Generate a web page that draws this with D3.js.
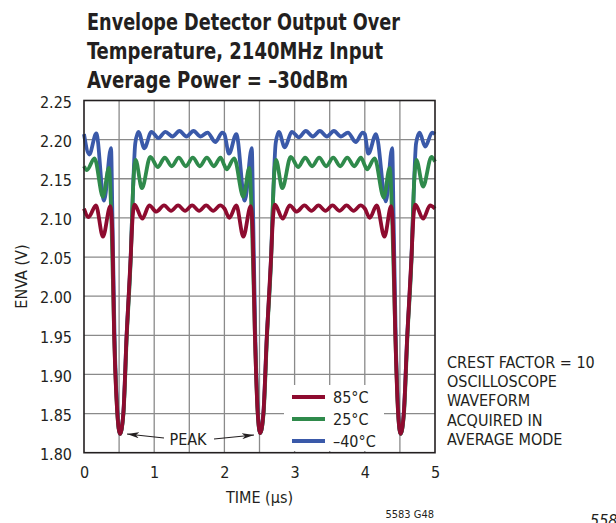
<!DOCTYPE html>
<html>
<head>
<meta charset="utf-8">
<script src="https://cdn.jsdelivr.net/npm/d3@7"></script>
<style>
  html, body { margin: 0; padding: 0; background: #fff; }
  svg { display: block; }
  .cond { font-family: 'Liberation Sans Narrow', 'DejaVu Sans Condensed', 'Roboto Condensed', sans-serif; }
</style>
</head>
<body>
<svg id="chart" width="616" height="523"></svg>
<script>
// tick labels
const xTicks = [0, 1, 2, 3, 4, 5]
const yTicks = [1.80, 1.85, 1.90, 1.95, 2.00, 2.05, 2.10, 2.15, 2.20, 2.25]
const xGrid = [0.5, 1, 1.5, 2, 2.5, 3, 3.5, 4, 4.5]
const yGrid = [1.85, 1.90, 1.95, 2.00, 2.05, 2.10, 2.15, 2.20]

const titleLines = [
  'Envelope Detector Output Over',
  'Temperature, 2140MHz Input',
  'Average Power = \u201330dBm'
]
const titleWidths = [313, 296, 261]
const noteLines = ['CREST FACTOR = 10', 'OSCILLOSCOPE', 'WAVEFORM', 'ACQUIRED IN', 'AVERAGE MODE']

// [time (us), ENVA (V)]
const trace85 = [
  [0.00, 2.112], [0.065, 2.101], [0.17, 2.116], [0.27, 2.076], [0.375, 2.115],
  [0.40, 2.09], [0.43, 1.95], [0.475, 1.85], [0.513, 1.824], [0.56, 1.85], [0.607, 1.95], [0.665, 2.05], [0.69, 2.097],
  [0.72, 2.117], [0.83, 2.099], [0.93, 2.116], [1.03, 2.108], [1.14, 2.116], [1.24, 2.109], [1.34, 2.116], [1.44, 2.109],
  [1.54, 2.116], [1.64, 2.109], [1.74, 2.116], [1.84, 2.109], [1.94, 2.116],
  [2.00, 2.112], [2.07, 2.100], [2.17, 2.116], [2.27, 2.076], [2.375, 2.115],
  [2.40, 2.09], [2.435, 1.95], [2.475, 1.85], [2.51, 1.825], [2.555, 1.85], [2.605, 1.95], [2.665, 2.05], [2.69, 2.097],
  [2.72, 2.117], [2.83, 2.099], [2.93, 2.116], [3.03, 2.108], [3.14, 2.116], [3.24, 2.109], [3.34, 2.116], [3.44, 2.109],
  [3.54, 2.116], [3.64, 2.109], [3.74, 2.116], [3.84, 2.109], [3.94, 2.116],
  [4.00, 2.112], [4.07, 2.100], [4.17, 2.116], [4.28, 2.076], [4.375, 2.115],
  [4.40, 2.09], [4.435, 1.95], [4.475, 1.85], [4.51, 1.824], [4.555, 1.85], [4.605, 1.95], [4.665, 2.05], [4.69, 2.097],
  [4.72, 2.117], [4.83, 2.099], [4.93, 2.116], [5.00, 2.112]
]

const trace25 = [
  [0.00, 2.166], [0.04, 2.161], [0.15, 2.176], [0.27, 2.127], [0.355, 2.164],
  [0.39, 2.10], [0.43, 1.95], [0.475, 1.85], [0.513, 1.824], [0.562, 1.85], [0.61, 1.95], [0.667, 2.05], [0.70, 2.14],
  [0.735, 2.174], [0.825, 2.138], [0.945, 2.178], [1.05, 2.165], [1.15, 2.177], [1.25, 2.166], [1.35, 2.177], [1.45, 2.166],
  [1.55, 2.177], [1.65, 2.166], [1.75, 2.177], [1.85, 2.166], [1.945, 2.177],
  [2.00, 2.167], [2.03, 2.162], [2.14, 2.176], [2.27, 2.127], [2.355, 2.164],
  [2.39, 2.10], [2.435, 1.95], [2.475, 1.85], [2.51, 1.825], [2.558, 1.85], [2.608, 1.95], [2.667, 2.05], [2.70, 2.14],
  [2.735, 2.174], [2.825, 2.138], [2.945, 2.178], [3.05, 2.165], [3.15, 2.177], [3.25, 2.166], [3.35, 2.177], [3.45, 2.166],
  [3.55, 2.177], [3.65, 2.166], [3.75, 2.177], [3.85, 2.166], [3.945, 2.177],
  [4.00, 2.167], [4.03, 2.162], [4.14, 2.176], [4.27, 2.126], [4.355, 2.164],
  [4.39, 2.10], [4.435, 1.95], [4.475, 1.85], [4.51, 1.824], [4.558, 1.85], [4.608, 1.95], [4.667, 2.05], [4.70, 2.14],
  [4.735, 2.174], [4.83, 2.140], [4.95, 2.178], [5.00, 2.172]
]

const traceM40 = [
  [0.00, 2.207], [0.075, 2.181], [0.175, 2.208], [0.285, 2.122], [0.385, 2.189],
  [0.405, 2.10], [0.435, 1.95], [0.478, 1.85], [0.513, 1.824], [0.56, 1.85], [0.607, 1.95], [0.665, 2.05], [0.70, 2.14], [0.73, 2.195],
  [0.775, 2.210], [0.86, 2.189], [0.96, 2.210], [1.06, 2.202], [1.16, 2.210], [1.26, 2.204], [1.36, 2.211], [1.46, 2.204],
  [1.56, 2.211], [1.66, 2.204], [1.76, 2.209], [1.87, 2.197], [1.97, 2.209],
  [2.00, 2.207], [2.065, 2.182], [2.17, 2.207], [2.29, 2.122], [2.39, 2.189],
  [2.41, 2.10], [2.44, 1.95], [2.478, 1.85], [2.51, 1.825], [2.555, 1.85], [2.605, 1.95], [2.665, 2.05], [2.70, 2.14], [2.73, 2.195],
  [2.775, 2.210], [2.86, 2.190], [2.96, 2.210], [3.06, 2.203], [3.16, 2.211], [3.26, 2.204], [3.36, 2.211], [3.46, 2.204],
  [3.56, 2.211], [3.66, 2.204], [3.76, 2.209], [3.87, 2.197], [3.97, 2.209],
  [4.00, 2.207], [4.05, 2.182], [4.16, 2.207], [4.30, 2.121], [4.39, 2.189],
  [4.41, 2.10], [4.44, 1.95], [4.478, 1.85], [4.51, 1.824], [4.555, 1.85], [4.605, 1.95], [4.665, 2.05], [4.70, 2.14], [4.73, 2.195],
  [4.78, 2.209], [4.86, 2.191], [4.96, 2.209], [5.00, 2.207]
]

const seriesNames = ['85\u00b0C', '25\u00b0C', '\u201340\u00b0C']
const seriesColors = ['#8e0b2f', '#2f8a4b', '#3a59a9']

const svg = d3.select('#chart')
const plot = { left: 84, right: 435, top: 100.5, bottom: 452.7 }

const x = d3.scaleLinear().domain([0, 5]).range([plot.left, plot.right])
const y = d3.scaleLinear().domain([1.8, 2.25]).range([plot.bottom, plot.top])

// title, squeezed to the condensed widths of the original
svg.append('g')
  .selectAll('text')
  .data(titleLines)
  .enter()
  .append('text')
  .attr('class', 'cond')
  .attr('x', 87)
  .attr('y', (d, i) => 29.5 + i * 29.3)
  .attr('textLength', (d, i) => titleWidths[i])
  .attr('lengthAdjust', 'spacingAndGlyphs')
  .style('font-size', '23px')
  .style('font-weight', 'bold')
  .style('fill', '#231f20')
  .text(d => d)

// grid
const grid = svg.append('g').attr('stroke', '#8a8a8a').attr('stroke-width', 1.3)
grid.selectAll('.vgrid')
  .data(xGrid)
  .enter()
  .append('line')
  .attr('x1', d => x(d))
  .attr('x2', d => x(d))
  .attr('y1', plot.top)
  .attr('y2', plot.bottom)
grid.selectAll('.hgrid')
  .data(yGrid)
  .enter()
  .append('line')
  .attr('x1', plot.left)
  .attr('x2', plot.right)
  .attr('y1', d => y(d))
  .attr('y2', d => y(d))

// legend background hides grid
svg.append('rect')
  .attr('x', 284)
  .attr('y', 385)
  .attr('width', 100)
  .attr('height', 66)
  .attr('fill', '#fff')

// traces: -40 first, 85 on top
const line = d3.line()
  .x(d => x(d[0]))
  .y(d => y(d[1]))
  .curve(d3.curveMonotoneX)

const traces = [traceM40, trace25, trace85]
const traceColors = [seriesColors[2], seriesColors[1], seriesColors[0]]
svg.append('g')
  .selectAll('path')
  .data(traces)
  .enter()
  .append('path')
  .attr('d', line)
  .attr('fill', 'none')
  .attr('stroke', (d, i) => traceColors[i])
  .attr('stroke-width', 3.8)
  .attr('stroke-linejoin', 'round')

// frame
svg.append('rect')
  .attr('x', plot.left)
  .attr('y', plot.top)
  .attr('width', plot.right - plot.left)
  .attr('height', plot.bottom - plot.top)
  .attr('fill', 'none')
  .attr('stroke', '#231f20')
  .attr('stroke-width', 1.6)

// axes
const yAxis = svg.append('g')
  .attr('transform', `translate(${plot.left},0)`)
  .call(d3.axisLeft(y).tickValues(yTicks).tickFormat(d3.format('.2f')).tickSize(0).tickPadding(12))
yAxis.attr('font-family', null).attr('class', 'cond')
yAxis.select('.domain').remove()
yAxis.selectAll('text')
  .attr('dy', '0.42em')
  .style('font-size', '16px')
  .style('fill', '#231f20')

const xAxis = svg.append('g')
  .attr('transform', `translate(0,${plot.bottom})`)
  .call(d3.axisBottom(x).tickValues(xTicks).tickFormat(d3.format('d')).tickSize(0).tickPadding(14))
xAxis.attr('font-family', null).attr('class', 'cond')
xAxis.select('.domain').remove()
xAxis.selectAll('text')
  .style('font-size', '16px')
  .style('fill', '#231f20')

// axis titles
svg.append('text')
  .attr('class', 'cond')
  .attr('transform', `translate(27,${(plot.top + plot.bottom) / 2}) rotate(-90)`)
  .attr('text-anchor', 'middle')
  .style('font-size', '16px')
  .style('fill', '#231f20')
  .text('ENVA (V)')

svg.append('text')
  .attr('class', 'cond')
  .attr('x', (plot.left + plot.right) / 2)
  .attr('y', 503)
  .attr('text-anchor', 'middle')
  .style('font-size', '16px')
  .style('fill', '#231f20')
  .text('TIME (\u00b5s)')

// legend
const legend = svg.append('g')
  .selectAll('g')
  .data(seriesNames)
  .enter()
  .append('g')
  .attr('transform', (d, i) => `translate(292,${397 + i * 22})`)
legend.append('line')
  .attr('x1', 0)
  .attr('x2', 33)
  .attr('stroke', (d, i) => seriesColors[i])
  .attr('stroke-width', 3.8)
legend.append('text')
  .attr('class', 'cond')
  .attr('x', 41)
  .attr('y', 6)
  .style('font-size', '16px')
  .style('fill', '#231f20')
  .text(d => d)

// PEAK annotation
svg.append('defs')
  .append('marker')
  .attr('id', 'arrow')
  .attr('viewBox', '0 0 12 6')
  .attr('refX', 12)
  .attr('refY', 3)
  .attr('markerWidth', 12)
  .attr('markerHeight', 6)
  .attr('markerUnits', 'userSpaceOnUse')
  .attr('orient', 'auto')
  .append('path')
  .attr('d', 'M0,0 L12,3 L0,6 L3,3 Z')
  .attr('fill', '#231f20')

svg.append('text')
  .attr('class', 'cond')
  .attr('x', 188)
  .attr('y', 445)
  .attr('text-anchor', 'middle')
  .style('font-size', '16px')
  .style('fill', '#231f20')
  .text('PEAK')

svg.append('line')
  .attr('x1', 164).attr('y1', 438)
  .attr('x2', 127).attr('y2', 434)
  .attr('stroke', '#231f20').attr('stroke-width', 1.2)
  .attr('marker-end', 'url(#arrow)')
svg.append('line')
  .attr('x1', 214).attr('y1', 439)
  .attr('x2', 254).attr('y2', 435)
  .attr('stroke', '#231f20').attr('stroke-width', 1.2)
  .attr('marker-end', 'url(#arrow)')

// side note
svg.append('text')
  .attr('class', 'cond')
  .attr('x', 447)
  .attr('y', 368)
  .style('font-size', '16px')
  .style('fill', '#231f20')
  .selectAll('tspan')
  .data(noteLines)
  .enter()
  .append('tspan')
  .attr('x', 447)
  .attr('dy', (d, i) => (i === 0 ? 0 : 19.2))
  .text(d => d)

// figure id and page number (page number sits at the page edge, as in the source)
svg.append('text')
  .attr('class', 'cond')
  .attr('x', 434)
  .attr('y', 518)
  .attr('text-anchor', 'end')
  .style('font-size', '11px')
  .style('fill', '#231f20')
  .text('5583 G48')

svg.append('text')
  .attr('class', 'cond')
  .attr('x', 590)
  .attr('y', 526)
  .style('font-size', '16px')
  .style('font-style', 'italic')
  .style('fill', '#231f20')
  .text('5583f')
</script>
</body>
</html>
